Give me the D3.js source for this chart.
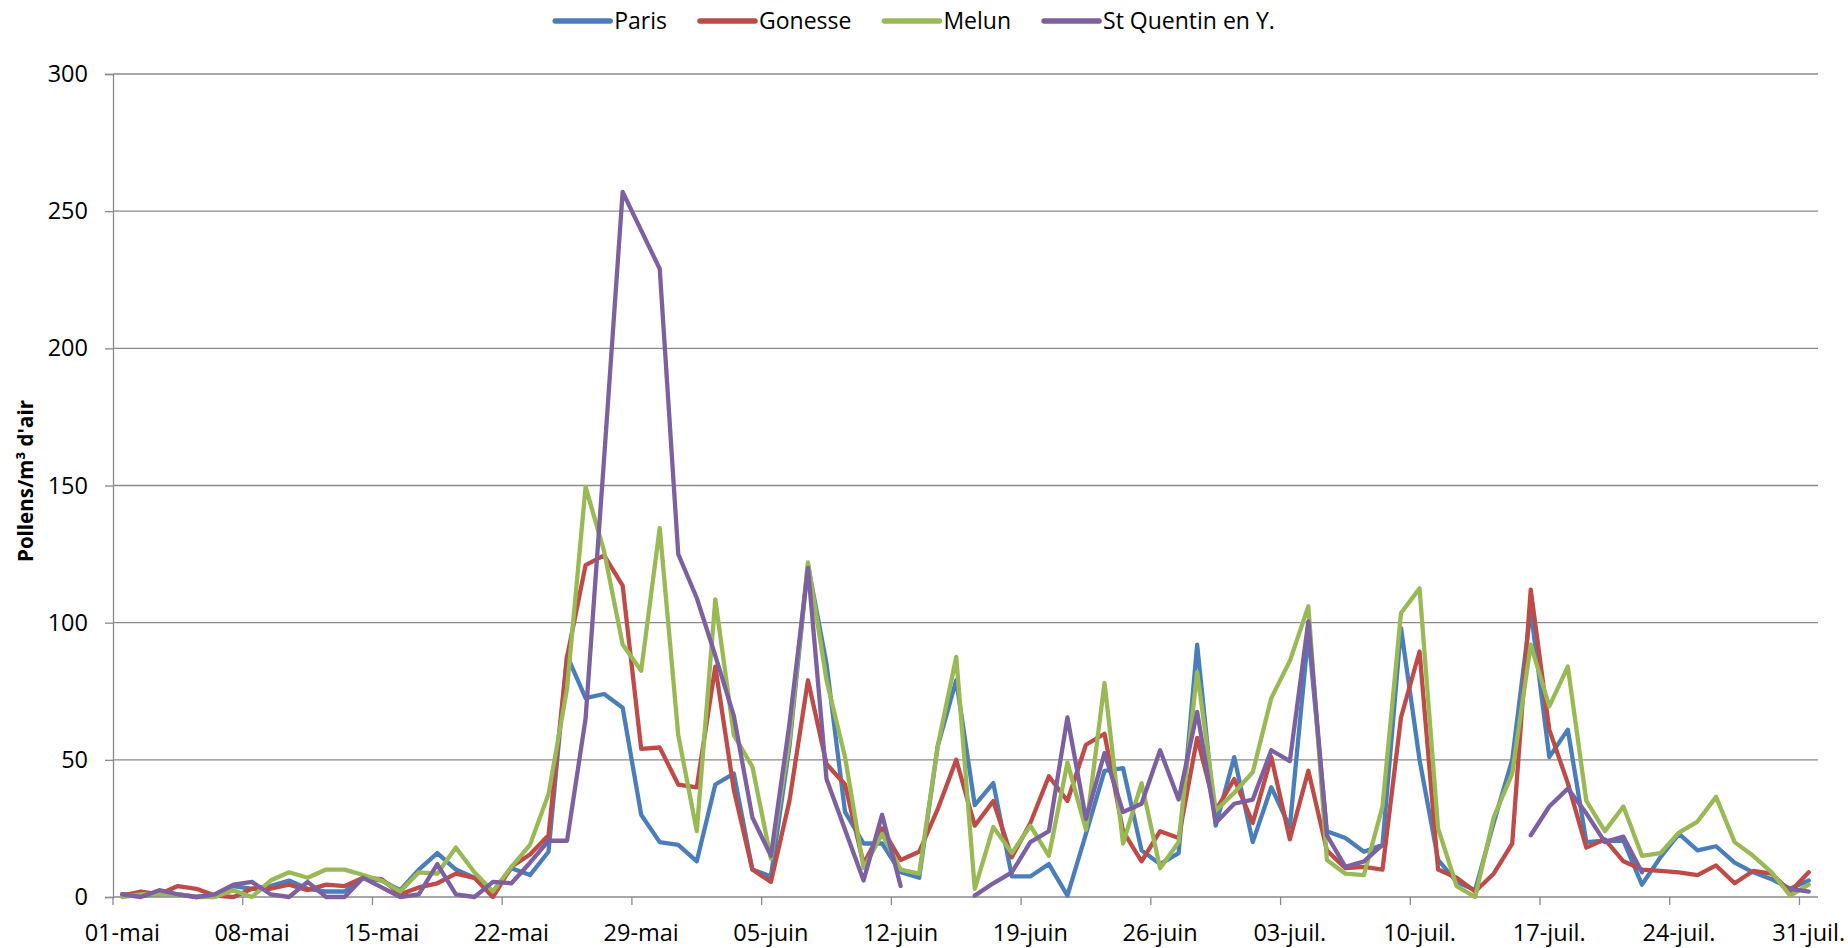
<!DOCTYPE html>
<html>
<head>
<meta charset="utf-8">
<script src="https://cdn.jsdelivr.net/npm/d3@7"></script>
<style>
  body { margin: 0; background: #fff; }
  text { font-family: "Open Sans", sans-serif; fill: #000; }
</style>
</head>
<body>
<div id="chart"></div>
<script>

// 1. Data (pollens/m3 d'air, one value per day from 01-mai to 31-juil.)

const seriesNames = ["Paris", "Gonesse", "Melun", "St Quentin en Y."]
const seriesColors = ["#4A7EBB", "#BE4B48", "#98B954", "#7D60A0"]

const paris = [1,0.5,1,1,0,0.5,4,3,4,6, 3,2,2,7,6,2.5,10,16,10,7,
  2,10.5,8,16.5,88,72.5,74,69,30,20, 19,13,41,45,10,7.5,55,121,85,31,
  19.5,19.5,9,7,55,79,33.5,41.5,7.5,7.5, 12,0.5,23,46,47,17,12,16,92,26,
  51,20,40,25.5,96,24,21.5,16.5,19,98, 50,13.5,5.5,2.5,27,50,104.5,51,61,20,
  20.5,20.5,4.5,14.5,23,17,18.5,12.5,9,6.5, 3,6]

const gonesse = [0.5,2,1,4,3,0.5,0,3,3,4.5, 2.5,4.5,4,7,6.5,1,3.5,5,8.5,7,
  0,11,15.5,22.5,87.5,121,124.5,113.5,54,54.5, 41,40,84,39,10,5.5,35,79,48.5,41,
  12,25,13.5,16.5,32,50,26,35,14.5,27, 44,35,55.5,59.5,24,13,24,21.5,58,31.5,
  43,27,51,21,46,17,10.5,11,10,65.5, 89.5,10,7,2,8.5,19.5,112,61,41.5,18,
  21,13,10,9.5,9,8,11.5,5,9.5,8.5, 2,9]

const melun = [0,1,1,1,0,0,2.5,0,6,9, 7,10,10,8,6,2,9,8.5,18,9,
  2,11,19,37.5,76,149.5,126,92,82.5,134.5, 59,24,108.5,59,47.5,14,57,122,79,51,
  10.5,23,10,8.5,55,87.5,3,25.5,16,26, 15,49,24.5,78,19.5,41.5,10.5,20,82,31.5,
  38,45.5,72.5,86,106,13.5,8.5,8,33,103.5, 112.5,25,4,0,29,45,92,69.5,84,35,
  24,33,15,16,23.5,27.5,36.5,20,15,9, 0.5,4.5]

const stQuentin = [1,0,2.5,1,0,1,4.5,5.5,1,0, 5.5,0,0,7,3.5,0,1,12,1,0,
  5.5,5,12.5,20.5,20.5,65,160,257,243,229, 125,109,88,66,29,15,63,120,43,24.5,
  6,30,4,null,null,null,0.5,5,9,20, 24,65.5,28.5,52.5,31,34,53.5,35.5,67.5,27,
  34,35.5,53.5,49.5,100.5,22.5,11,13,19,null, null,null,null,null,null,null,22.5,33,39.5,30.5,
  20,22,9,null,null,null,null,null,null,null, 3,2]

const days = d3.range(92)   // 01-mai ... 31-juil.
const tickDays = d3.range(0, 92, 7)
const tickLabels = ["01-mai", "08-mai", "15-mai", "22-mai", "29-mai", "05-juin", "12-juin",
  "19-juin", "26-juin", "03-juil.", "10-juil.", "17-juil.", "24-juil.", "31-juil."]
const yTicks = [0, 50, 100, 150, 200, 250, 300]

const allSeries = [paris, gonesse, melun, stQuentin]

// 2. Dimensions

let dimensions = {
  width: 1848,
  height: 948,
  margin: { top: 74, right: 30, bottom: 51, left: 113 },
}
dimensions.boundedWidth = dimensions.width - dimensions.margin.left - dimensions.margin.right
dimensions.boundedHeight = dimensions.height - dimensions.margin.top - dimensions.margin.bottom

// 3. Canvas

const svg = d3.select("#chart")
  .append("svg")
    .attr("width", dimensions.width)
    .attr("height", dimensions.height)

const bounds = svg.append("g")
    .attr("transform", `translate(${dimensions.margin.left},${dimensions.margin.top})`)

// 4. Scales

const xScale = d3.scaleBand()
    .domain(days)
    .range([0, dimensions.boundedWidth])
    .padding(0)

const yScale = d3.scaleLinear()
    .domain([0, 300])
    .range([dimensions.boundedHeight, 0])

const xCenter = d => xScale(d) + xScale.bandwidth() / 2

// 5. Peripherals under the data

const gridColor = "#8a8a8a"

bounds.append("g")
  .selectAll("line")
  .data(yTicks.filter(d => d > 0))
  .enter().append("line")
    .attr("x1", 0)
    .attr("x2", dimensions.boundedWidth)
    .attr("y1", d => yScale(d))
    .attr("y2", d => yScale(d))
    .attr("stroke", gridColor)
    .attr("stroke-width", 1.3)

// y axis
const yAxis = d3.axisLeft(yScale)
    .tickValues(yTicks)
    .tickSize(8)
    .tickPadding(17)
const yAxisGroup = bounds.append("g").call(yAxis)
yAxisGroup.select(".domain").attr("stroke", gridColor).attr("stroke-width", 1.3)
yAxisGroup.selectAll(".tick line").attr("stroke", gridColor).attr("stroke-width", 1.3)
yAxisGroup.selectAll(".tick text")
    .style("font-size", "23.5px")
    .attr("fill", "#000")

// x axis
const xAxisGroup = bounds.append("g")
    .attr("transform", `translate(0,${dimensions.boundedHeight})`)
xAxisGroup.append("line")
    .attr("x1", 0)
    .attr("x2", dimensions.boundedWidth)
    .attr("stroke", gridColor)
    .attr("stroke-width", 1.3)
xAxisGroup.selectAll(".xtick")
  .data(tickDays)
  .enter().append("line")
    .attr("class", "xtick")
    .attr("x1", d => xScale(d))
    .attr("x2", d => xScale(d))
    .attr("y1", 0)
    .attr("y2", 8)
    .attr("stroke", gridColor)
    .attr("stroke-width", 1.3)
xAxisGroup.selectAll(".xlabel")
  .data(tickDays)
  .enter().append("text")
    .attr("class", "xlabel")
    .attr("x", d => xCenter(d))
    .attr("y", 44)
    .attr("text-anchor", "middle")
    .style("font-size", "23.5px")
    .text((d, i) => tickLabels[i])

// y title
svg.append("text")
    .attr("transform", `translate(33,481) rotate(-90)`)
    .attr("text-anchor", "middle")
    .style("font-size", "20.5px")
    .style("font-weight", "bold")
    .text("Pollens/m³ d'air")

// 6. Lines

const lineGenerator = d3.line()
    .defined(d => d != null)
    .x((d, i) => xCenter(days[i]))
    .y(d => yScale(d))

bounds.selectAll(".series")
  .data(allSeries)
  .enter().append("path")
    .attr("class", "series")
    .attr("d", lineGenerator)
    .attr("fill", "none")
    .attr("stroke", (d, i) => seriesColors[i])
    .attr("stroke-width", 4.3)
    .attr("stroke-linejoin", "round")
    .attr("stroke-linecap", "round")

// 7. Legend

const legendGroup = svg.append("g")
    .attr("transform", "translate(0,21)")

const sampleWidth = 55
const items = legendGroup.selectAll(".legend-item")
  .data(seriesNames)
  .enter().append("g")
    .attr("class", "legend-item")

items.append("line")
    .attr("x1", 0)
    .attr("x2", sampleWidth)
    .attr("stroke", (d, i) => seriesColors[i])
    .attr("stroke-width", 5.5)
    .attr("stroke-linecap", "round")

items.append("text")
    .attr("x", sampleWidth + 4)
    .attr("dy", "0.35em")
    .style("font-size", "23px")
    .text(d => d)

let offset = 0
const itemOffsets = []
items.each(function() {
  itemOffsets.push(offset)
  const textWidth = d3.select(this).select("text").node().getComputedTextLength()
  offset += sampleWidth + 4 + textWidth + 33
})
const legendWidth = offset - 33
const legendStart = 915 - legendWidth / 2
items.attr("transform", (d, i) => `translate(${legendStart + itemOffsets[i]},0)`)

</script>
</body>
</html>
